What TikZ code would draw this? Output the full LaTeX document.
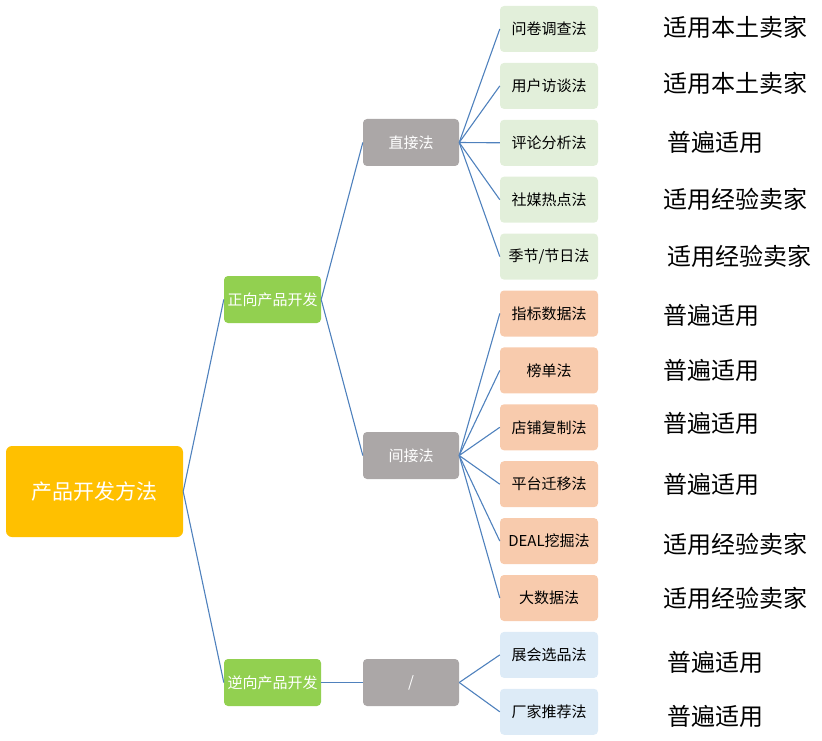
\documentclass[tikz,border=0pt]{standalone}
\usepackage{fontspec}
\setmainfont{Noto Sans CJK SC}
\usepackage{xcolor}
\usetikzlibrary{positioning}

\definecolor{rootcol}{RGB}{255,192,0}
\definecolor{branchcol}{RGB}{146,208,80}
\definecolor{waycol}{RGB}{171,167,167}
\definecolor{directcol}{RGB}{226,239,218}
\definecolor{indirectcol}{RGB}{248,203,173}
\definecolor{reversecol}{RGB}{221,235,247}
\definecolor{linkcol}{RGB}{79,129,189}

\begin{document}
\begin{tikzpicture}[
    x=1pt, y=-1pt,
    root/.style={rectangle, rounded corners=6pt, fill=rootcol, minimum width=177pt, minimum height=91pt, text=white, font=\fontsize{21}{24}\selectfont},
    branch/.style={rectangle, rounded corners=4pt, fill=branchcol, minimum width=97pt, minimum height=47pt, text=white, font=\fontsize{15}{18}\selectfont, inner sep=1pt},
    way/.style={rectangle, rounded corners=4pt, fill=waycol, minimum width=96pt, minimum height=47pt, text=white, font=\fontsize{15}{18}\selectfont},
    leaf/.style={rectangle, rounded corners=4pt, minimum width=98pt, minimum height=46pt, font=\fontsize{15}{18}\selectfont, inner sep=1pt},
    note/.style={right=65pt of #1, font=\fontsize{24}{28}\selectfont, inner sep=0pt},
    link/.style={draw=linkcol, line width=1.1pt}
]
\useasboundingbox (0,0) rectangle (822,741);

\node[root] (root) at (94.5,491.5) {产品开发方法};
\node[branch] (fwd) at (272.5,299.5) {正向产品开发};
\node[branch] (rev) at (272.5,682.5) {逆向产品开发};
\node[way] (direct) at (411,142.5) {直接法};
\node[way] (indirect) at (411,455.5) {间接法};
\node[way] (slash) at (411,682.5) {/};

% leaves
\node[leaf, fill=directcol] (q1) at (549,29) {问卷调查法};
\node[leaf, fill=directcol, below=10.5pt of q1] (q2) {用户访谈法};
\node[leaf, fill=directcol, below=10.5pt of q2] (q3) {评论分析法};
\node[leaf, fill=directcol, below=10.5pt of q3] (q4) {社媒热点法};
\node[leaf, fill=directcol, below=10.5pt of q4] (q5) {季节/节日法};
\node[leaf, fill=indirectcol, below=10.5pt of q5] (q6) {指标数据法};
\node[leaf, fill=indirectcol, below=10.5pt of q6] (q7) {榜单法};
\node[leaf, fill=indirectcol, below=10.5pt of q7] (q8) {店铺复制法};
\node[leaf, fill=indirectcol, below=10.5pt of q8] (q9) {平台迁移法};
\node[leaf, fill=indirectcol, below=10.5pt of q9] (q10) {DEAL挖掘法};
\node[leaf, fill=indirectcol, below=10.5pt of q10] (q11) {大数据法};
\node[leaf, fill=reversecol, below=10.5pt of q11] (q12) {展会选品法};
\node[leaf, fill=reversecol, below=10.5pt of q12] (q13) {厂家推荐法};

% notes
\node[note=q1, yshift=2pt] (n1) {适用本土卖家};
\node[note=q2, yshift=3pt] (n2) {适用本土卖家};
\node[note=q3, xshift=4pt] (n3) {普遍适用};
\node[note=q4] (n4) {适用经验卖家};
\node[note=q5, xshift=4pt] (n5) {适用经验卖家};
\node[note=q6, yshift=-2pt] (n6) {普遍适用};
\node[note=q7] (n7) {普遍适用};
\node[note=q8, yshift=4pt] (n8) {普遍适用};
\node[note=q9] (n9) {普遍适用};
\node[note=q10, yshift=-3pt] (n10) {适用经验卖家};
\node[note=q11] (n11) {适用经验卖家};
\node[note=q12, xshift=4pt, yshift=-8pt] (n12) {普遍适用};
\node[note=q13, xshift=4pt, yshift=-5pt] (n13) {普遍适用};

\draw[link] (root.east) -- (fwd.west);
\draw[link] (root.east) -- (rev.west);
\draw[link] (fwd.east) -- (direct.west);
\draw[link] (fwd.east) -- (indirect.west);
\draw[link] (rev.east) -- (slash.west);
\draw[link] (direct.east) -- (q1.west);
\draw[link] (direct.east) -- (q2.west);
\draw[link] (direct.east) -- (q3.west);
\draw[link] (direct.east) -- (q4.west);
\draw[link] (direct.east) -- (q5.west);
\draw[link] (indirect.east) -- (q6.west);
\draw[link] (indirect.east) -- (q7.west);
\draw[link] (indirect.east) -- (q8.west);
\draw[link] (indirect.east) -- (q9.west);
\draw[link] (indirect.east) -- (q10.west);
\draw[link] (indirect.east) -- (q11.west);
\draw[link] (slash.east) -- (q12.west);
\draw[link] (slash.east) -- (q13.west);
\end{tikzpicture}
\end{document}
